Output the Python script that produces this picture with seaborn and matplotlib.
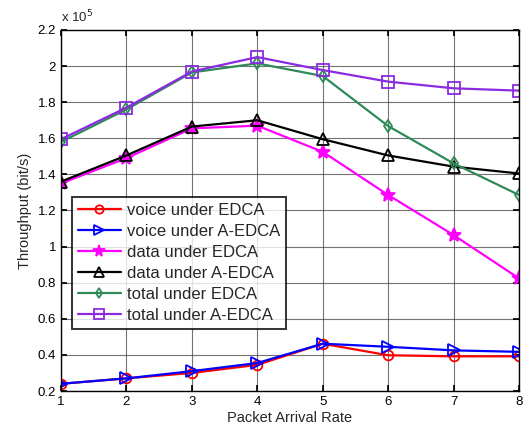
import matplotlib
matplotlib.use("Agg")
import matplotlib.pyplot as plt
import seaborn as sns
import pandas as pd

sns.set_theme(style="white")
plt.rcParams['font.family'] = ['Liberation Sans', 'DejaVu Sans']

rates = [1, 2, 3, 4, 5, 6, 7, 8]
voice_edca = [0.24, 0.27, 0.30, 0.345, 0.462, 0.398, 0.392, 0.392]
voice_aedca = [0.24, 0.27, 0.31, 0.355, 0.462, 0.445, 0.425, 0.417]
data_edca = [1.35, 1.49, 1.655, 1.67, 1.525, 1.286, 1.064, 0.824]
data_aedca = [1.36, 1.505, 1.665, 1.70, 1.595, 1.505, 1.443, 1.405]
total_edca = [1.58, 1.76, 1.965, 2.015, 1.945, 1.668, 1.461, 1.286]
total_aedca = [1.595, 1.77, 1.97, 2.05, 1.978, 1.914, 1.877, 1.864]

labels = ["voice under EDCA", "voice under A-EDCA", "data under EDCA",
          "data under A-EDCA", "total under EDCA", "total under A-EDCA"]
series = [voice_edca, voice_aedca, data_edca, data_aedca, total_edca, total_aedca]
colors = ["#ff0000", "#0000ff", "#ff00ff", "#000000", "#2e8b57", "#8a2be2"]
markers = ["o", ">", "*", "^", "d", "s"]
msizes = [7, 8, 10, 8, 6, 8]

fig = plt.figure(figsize=(5.29, 4.32), dpi=100)
ax = fig.add_axes([61/529, 1-391/432, 458/529, 361/432])

for lab, vals, c, m, ms in zip(labels, series, colors, markers, msizes):
    df = pd.DataFrame({"rate": rates, "thr": vals})
    face = c if m == "*" else "none"
    sns.lineplot(data=df, x="rate", y="thr", ax=ax, color=c, marker=m,
                 markersize=ms, markerfacecolor=face, markeredgecolor=c,
                 markeredgewidth=1.3, linewidth=1.6, label=lab)

ax.set_xlim(1, 8)
ax.set_ylim(0.2, 2.2)
ax.set_xticks(rates)
ax.set_yticks([0.2, 0.4, 0.6, 0.8, 1.0, 1.2, 1.4, 1.6, 1.8, 2.0, 2.2])
ax.set_yticklabels(["0.2", "0.4", "0.6", "0.8", "1", "1.2", "1.4", "1.6", "1.8", "2", "2.2"])
ax.grid(True, color="#444444", linewidth=0.8, linestyle="-", alpha=0.75)
ax.tick_params(direction="in", length=4, labelsize=9.5, colors="black",
               top=True, right=True, bottom=True, left=True)
for s in ax.spines.values():
    s.set_color("black")
    s.set_linewidth(1.0)
ax.set_xlabel("Packet Arrival Rate", fontsize=10.5, labelpad=2)
ax.set_ylabel("Throughput (bit/s)", fontsize=10.5, labelpad=4)
ax.text(0.0, 1.012, r"x 10$^5$", transform=ax.transAxes, fontsize=9.5,
        ha="left", va="bottom")

leg = ax.legend(loc="upper left", bbox_to_anchor=(0.024, 0.537), fontsize=12,
                frameon=True, fancybox=False, borderpad=0.35, labelspacing=0.36,
                handlelength=2.6, handletextpad=0.35, borderaxespad=0,
                markerscale=0.85)
leg.get_frame().set_edgecolor("black")
leg.get_frame().set_linewidth(1.4)

fig.savefig("out.png", dpi=100)
